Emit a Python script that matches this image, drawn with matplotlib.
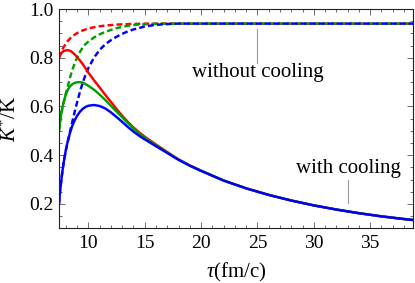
import matplotlib
matplotlib.use("Agg")
import matplotlib.pyplot as plt
from matplotlib.ticker import MultipleLocator

plt.rcParams['font.family'] = ['Liberation Serif', 'DejaVu Serif']
plt.rcParams['mathtext.fontset'] = 'custom'
plt.rcParams['mathtext.rm'] = 'Liberation Serif'
plt.rcParams['mathtext.it'] = 'Liberation Serif:italic'
plt.rcParams['mathtext.bf'] = 'Liberation Serif:bold'

# ---- data ----
tau = [7.4, 7.5, 7.6, 7.7, 7.8, 8.0, 8.2, 8.4, 8.6, 8.8, 9.0, 9.25, 9.5, 9.75,
       10.0, 10.5, 11.0, 11.5, 12.0, 12.5, 13.0, 13.5, 14.0, 14.5, 15, 16, 17,
       18, 19, 20, 22, 24, 26, 28, 30, 32, 34, 36, 38, 38.8]

tail = [0.296, 0.264, 0.237, 0.214, 0.194, 0.177, 0.162, 0.149, 0.138, 0.134]

red_cool = [0.800, 0.811, 0.818, 0.823, 0.827, 0.830, 0.831, 0.828, 0.822, 0.813,
            0.803, 0.789, 0.774, 0.757, 0.739, 0.708, 0.678, 0.648, 0.619, 0.590,
            0.562, 0.537, 0.514, 0.494, 0.476, 0.444, 0.413, 0.383, 0.358, 0.336] + tail
green_cool = [0.500, 0.540, 0.570, 0.595, 0.615, 0.648, 0.670, 0.684, 0.692, 0.697,
              0.699, 0.700, 0.698, 0.692, 0.685, 0.669, 0.649, 0.627, 0.603, 0.579,
              0.556, 0.532, 0.510, 0.490, 0.472, 0.441, 0.411, 0.382, 0.357, 0.336] + tail
blue_cool = [0.200, 0.255, 0.295, 0.333, 0.366, 0.420, 0.462, 0.496, 0.523, 0.544,
             0.561, 0.578, 0.590, 0.598, 0.603, 0.606, 0.602, 0.592, 0.576, 0.557,
             0.537, 0.516, 0.497, 0.480, 0.465, 0.437, 0.409, 0.381, 0.357, 0.336] + tail

red_nocool = [0.800, 0.813, 0.824, 0.834, 0.843, 0.857, 0.870, 0.880, 0.889, 0.895,
              0.901, 0.907, 0.912, 0.916, 0.920, 0.925, 0.929, 0.932, 0.934, 0.936,
              0.937, 0.938, 0.939, 0.939, 0.940] + [0.940] * 15
green_nocool = [0.500, 0.540, 0.570, 0.595, 0.615, 0.652, 0.687, 0.722, 0.752, 0.778,
                0.800, 0.823, 0.842, 0.856, 0.866, 0.883, 0.896, 0.906, 0.914, 0.921,
                0.927, 0.931, 0.934, 0.936, 0.937, 0.939, 0.940] + [0.940] * 13
blue_nocool = [0.200, 0.255, 0.295, 0.333, 0.366, 0.418, 0.460, 0.501, 0.541, 0.580,
               0.616, 0.659, 0.697, 0.730, 0.757, 0.800, 0.832, 0.855, 0.872, 0.886,
               0.898, 0.908, 0.916, 0.922, 0.928, 0.935, 0.938, 0.940, 0.940] + [0.940] * 11

x_ticks = [10, 15, 20, 25, 30, 35]
y_ticks = [0.2, 0.4, 0.6, 0.8, 1.0]

RED, GREEN, BLUE = '#ff0000', '#00a000', '#0000ff'

fig = plt.figure(figsize=(4.15, 2.83), dpi=100)
ax = fig.add_axes([59/415, 1-228.3/283, 354/415, (228.3-9)/283])

lw = 1.75
dash = (2.4, 1.3)
for ys, c in [(red_nocool, RED), (green_nocool, GREEN), (blue_nocool, BLUE)]:
    ax.plot(tau, ys, color=c, lw=lw, ls='--', dashes=dash)
for ys, c in [(red_cool, RED), (green_cool, GREEN), (blue_cool, BLUE)]:
    ax.plot(tau, ys, color=c, lw=lw, solid_capstyle='butt')

ax.set_xlim(7.4, 38.8)
ax.set_ylim(0.1, 1.0)
ax.set_xticks(x_ticks)
ax.set_yticks(y_ticks)
ax.set_yticklabels([f'{v:.1f}' for v in y_ticks])
ax.xaxis.set_minor_locator(MultipleLocator(1))
ax.yaxis.set_minor_locator(MultipleLocator(0.05))
ax.tick_params(which='both', direction='in', top=True, right=True, color='#555555',
               width=0.6)
ax.tick_params(which='major', length=4, labelsize=14, pad=4)
ax.tick_params(which='minor', length=2.2)
ax.tick_params(axis='x', which='major', pad=5)
for s in ax.spines.values():
    s.set_linewidth(0.8)
    s.set_color('#222222')

# annotations
ax.plot([25.0, 25.0], [0.918, 0.779], color='#999999', lw=0.8)
ax.text(25.0, 0.738, 'without cooling', ha='center', va='center', fontsize=15)
ax.plot([33.0, 33.0], [0.297, 0.204], color='#999999', lw=0.8)
ax.text(33.1, 0.346, 'with cooling', ha='center', va='center', fontsize=15)

fig.text(236/415, 1-272/283, r'$\tau$(fm/c)', ha='center', va='center', fontsize=15)
fig.text(10/415, 1-118.5/283, r'$K^{*}$/K', ha='center', va='center', fontsize=15,
         rotation=90)

fig.savefig('out.png', dpi=100)
